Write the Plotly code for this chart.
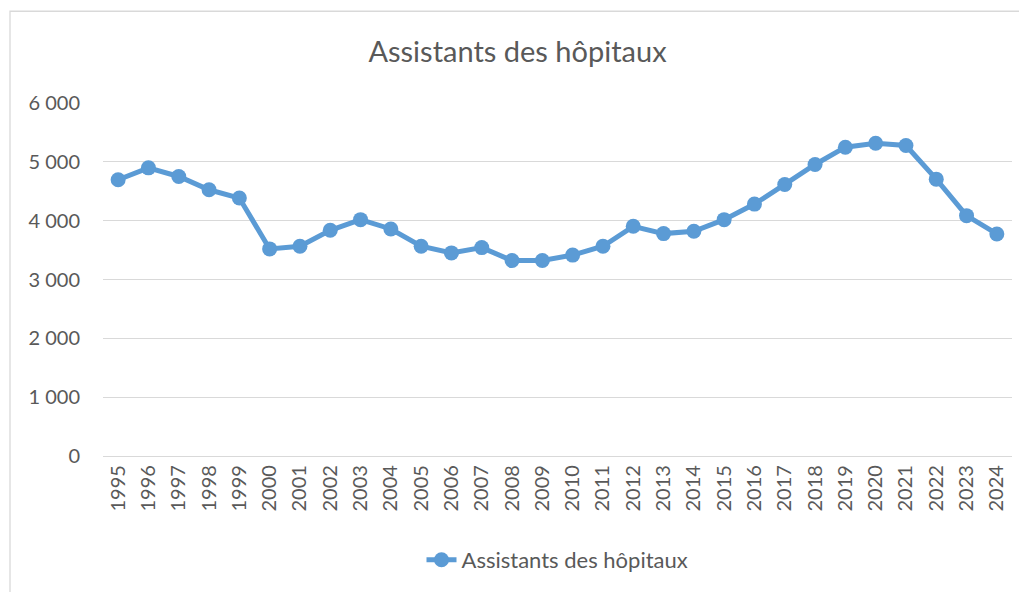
import plotly.graph_objects as go

years = [str(y) for y in range(1995, 2025)]
values = [4695, 4898, 4751, 4525, 4384, 3520, 3565, 3836, 4017, 3859,
          3565, 3452, 3542, 3322, 3322, 3415, 3565, 3904, 3780, 3819,
          4017, 4282, 4616, 4955, 5249, 5316, 5277, 4706, 4085, 3774]
series_name = "Assistants des hôpitaux"
title_text = "Assistants des hôpitaux"
y_ticks = [0, 1000, 2000, 3000, 4000, 5000, 6000]

color = "#5B9BD5"
txt = "#595959"
font_family = "Lato, 'Open Sans', sans-serif"

# page body has an 8px default margin; work in screen pixels and compensate
OFF = 8
W, H = 1027 - OFF, 592 - OFF
L = 103 - OFF
T = 103 - OFF
R = W - (1012 - OFF)
B = H - (457 - OFF)
pw, ph = W - L - R, H - T - B

def px_x(x):
    return (x - OFF - L) / pw

def px_y(y):
    return (H - B - (y - OFF)) / ph

fig = go.Figure()
fig.add_trace(go.Scatter(
    x=years, y=values, name=series_name, mode="lines+markers",
    line=dict(color=color, width=5),
    marker=dict(color=color, size=15),
))

fig.update_layout(
    width=W, height=H,
    margin=dict(l=L, r=R, t=T, b=B),
    paper_bgcolor="white", plot_bgcolor="white",
    separators=", ",
    font=dict(family=font_family, color=txt, size=20),
    title=dict(text=title_text, x=0.5, xanchor="center", y=1 - (52 - OFF) / H, yanchor="middle",
               font=dict(size=29, color=txt, family=font_family)),
    showlegend=True,
    legend=dict(orientation="h", x=0.5, xanchor="center", y=px_y(560), yanchor="middle",
                font=dict(size=22, color=txt)),
    xaxis=dict(type="category", range=[-0.5, len(years) - 0.5], tickangle=-90,
               showgrid=False, showline=True, linecolor="#D9D9D9", linewidth=1.3,
               ticks="", tickfont=dict(size=20, color=txt), fixedrange=True),
    yaxis=dict(range=[0, 6000], tickvals=y_ticks, tickformat=",d",
               showgrid=True, gridcolor="#D9D9D9", gridwidth=1.3, zeroline=False,
               showline=False, ticks="", ticklabelstandoff=22,
               tickfont=dict(size=20, color=txt), fixedrange=True),
    shapes=[dict(type="rect", xref="paper", yref="paper",
                 x0=px_x(10), x1=px_x(1045), y0=px_y(11), y1=px_y(620),
                 line=dict(color="#D9D9D9", width=1.3), fillcolor="rgba(0,0,0,0)",
                 layer="below")],
)

fig.write_html("out.html")
